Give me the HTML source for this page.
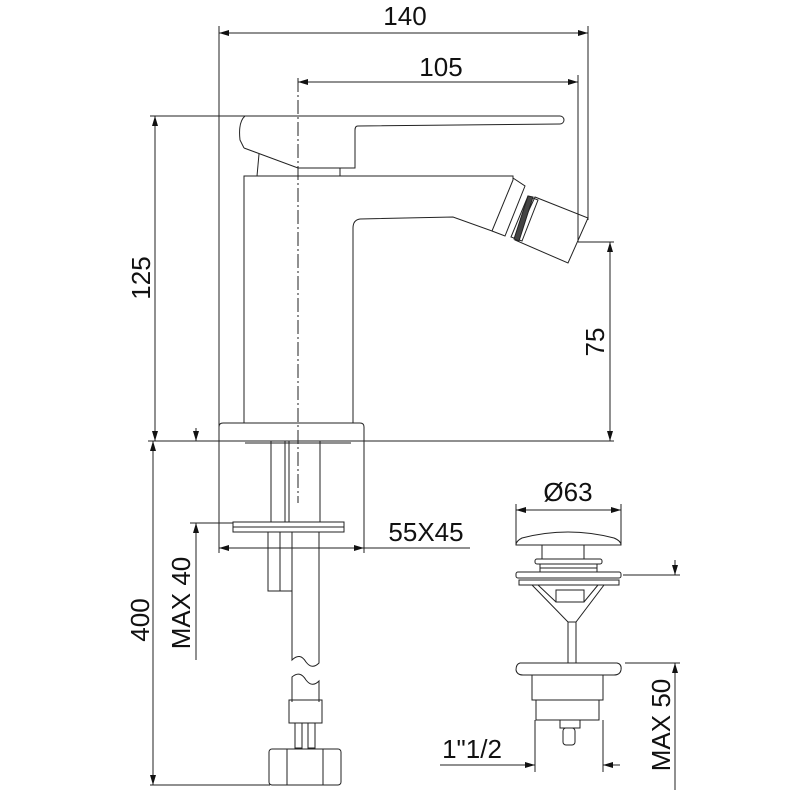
<!DOCTYPE html>
<html><head><style>html,body{margin:0;background:#fff}svg{display:block}</style></head>
<body>
<svg width="800" height="800" viewBox="0 0 800 800" xmlns="http://www.w3.org/2000/svg">
<defs>
<marker id="a" viewBox="0 0 10 6" refX="10" refY="3" markerWidth="10" markerHeight="6" orient="auto-start-reverse" markerUnits="userSpaceOnUse"><path d="M0,0L10,3L0,6z" fill="#111"/></marker>
</defs>
<g fill="none" stroke="#222" stroke-width="1">
<line x1="219" y1="26" x2="219" y2="553"/>
<line x1="588" y1="26" x2="588" y2="220"/>
<line x1="578" y1="75" x2="578" y2="242"/>
<line x1="578" y1="242" x2="614" y2="242"/>
<line x1="150" y1="116" x2="245" y2="116"/>
<line x1="148" y1="441" x2="614" y2="441"/>
<line x1="219" y1="33" x2="588" y2="33" marker-start="url(#a)" marker-end="url(#a)"/>
<line x1="298" y1="82" x2="578" y2="82" marker-start="url(#a)" marker-end="url(#a)"/>
<line x1="155" y1="116" x2="155" y2="441" marker-start="url(#a)" marker-end="url(#a)"/>
<line x1="610" y1="242" x2="610" y2="441" marker-start="url(#a)" marker-end="url(#a)"/>
<line x1="298" y1="78" x2="298" y2="503" stroke-dasharray="14,3,2,3"/>
<path d="M245,116 L560,116 A4,4 0 0 1 560,124 L358,126 Q355,126 355,130 L355,168 L298,168 L244,148"/>
<path d="M245,116 Q238,122 240,140 L244,148"/>
<line x1="259" y1="154" x2="257" y2="176"/>
<line x1="340" y1="168" x2="340" y2="176"/>
<path d="M244,423 L244,176 L513,176 L513,180 L492,231 L453,217 L360,219 Q353,220 353,228 L353,423"/>
<path d="M513,178 L525,186 L505,236 L492,231"/>
<path d="M528,196 L538,200 L522,241 L511,237 Z"/>
<path d="M535,197 L588,218 L568,263 L515,240 Z"/>
<path d="M533,197 L519,241 L514,239 L528,196 Z" fill="#444"/>
<path d="M219,441 L219,427 Q219,423 223,423 L360,423 Q364,423 364,427 L364,441"/>
<line x1="245" y1="443" x2="351" y2="443"/>
<line x1="271" y1="441" x2="271" y2="522"/>
<line x1="285" y1="441" x2="285" y2="522"/>
<line x1="289" y1="441" x2="289" y2="522"/>
<line x1="320" y1="441" x2="320" y2="522"/>
<rect x="233" y="522" width="111" height="10"/>
<line x1="233" y1="527" x2="344" y2="527"/>
<rect x="268" y="532" width="24" height="59"/>
<line x1="280" y1="532" x2="280" y2="591"/>
<path d="M292,532 L292,660 Q300,652 306,662 Q312,670 319,663 L319,532"/>
<path d="M292,702 L292,677 Q300,670 306,680 Q312,688 319,681 L319,702"/>
<rect x="289" y="700" width="33" height="23"/>
<rect x="295" y="723" width="7" height="25"/>
<rect x="308" y="723" width="7" height="25"/>
<rect x="269" y="749" width="72" height="36" rx="3"/>
<line x1="287" y1="749" x2="287" y2="785"/>
<line x1="323" y1="749" x2="323" y2="785"/>
<line x1="364" y1="441" x2="364" y2="553"/>
<line x1="219" y1="548" x2="364" y2="548" marker-start="url(#a)" marker-end="url(#a)"/>
<line x1="364" y1="548" x2="470" y2="548"/>
<line x1="153" y1="441" x2="153" y2="785" marker-start="url(#a)" marker-end="url(#a)"/>
<line x1="150" y1="785" x2="270" y2="785"/>
<line x1="196" y1="428" x2="196" y2="441" marker-end="url(#a)"/>
<line x1="196" y1="523" x2="196" y2="660" marker-start="url(#a)"/>
<line x1="190" y1="523" x2="233" y2="523"/>
<line x1="516" y1="504" x2="516" y2="545"/>
<line x1="621" y1="504" x2="621" y2="545"/>
<line x1="516" y1="510" x2="621" y2="510" marker-start="url(#a)" marker-end="url(#a)"/>
<path d="M516,545 Q516,541 522,538 Q568,526 614,538 Q621,541 621,545 Z"/>
<rect x="542" y="545" width="42" height="14"/>
<rect x="535" y="559" width="67" height="5" rx="2"/>
<rect x="540" y="564" width="57" height="8"/>
<line x1="540" y1="568" x2="597" y2="568"/>
<rect x="516" y="572" width="105" height="6" rx="2"/>
<rect x="519" y="580" width="100" height="5"/>
<path d="M532,585 L604,585 L576,622 L568,622 Z"/>
<path d="M538,585 L556,602 L584,602 L598,585"/>
<rect x="556" y="590" width="28" height="12"/>
<rect x="568" y="622" width="8" height="41"/>
<path d="M520,663 L617,663 Q622,664 621,670 Q620,675 614,675 L523,675 Q517,675 516,670 Q516,664 520,663 Z"/>
<rect x="532" y="675" width="71" height="25"/>
<rect x="536" y="700" width="63" height="20"/>
<rect x="560" y="720" width="20" height="8"/>
<rect x="563" y="728" width="12" height="17" rx="3"/>
<line x1="623" y1="575" x2="680" y2="575"/>
<line x1="625" y1="663" x2="680" y2="663"/>
<line x1="675" y1="560" x2="675" y2="575" marker-end="url(#a)"/>
<line x1="675" y1="663" x2="675" y2="790" marker-start="url(#a)"/>
<line x1="535" y1="720" x2="535" y2="772"/>
<line x1="603" y1="720" x2="603" y2="772"/>
<line x1="440" y1="765" x2="535" y2="765" marker-end="url(#a)"/>
<line x1="603" y1="765" x2="620" y2="765" marker-start="url(#a)"/>
</g>
<g font-family="Liberation Sans, sans-serif" font-size="26" fill="#111">
<text x="405" y="25" text-anchor="middle">140</text>
<text x="441" y="76" text-anchor="middle">105</text>
<text transform="translate(150,278) rotate(-90)" text-anchor="middle">125</text>
<text transform="translate(604,342) rotate(-90)" text-anchor="middle">75</text>
<text x="426" y="541" text-anchor="middle">55X45</text>
<text transform="translate(149,620) rotate(-90)" text-anchor="middle">400</text>
<text transform="translate(190,603) rotate(-90)" text-anchor="middle">MAX 40</text>
<text x="568" y="501" text-anchor="middle">Ø63</text>
<text x="472" y="758" text-anchor="middle">1"1/2</text>
<text transform="translate(670,725) rotate(-90)" text-anchor="middle">MAX 50</text>
</g>
</svg>
</body></html>
